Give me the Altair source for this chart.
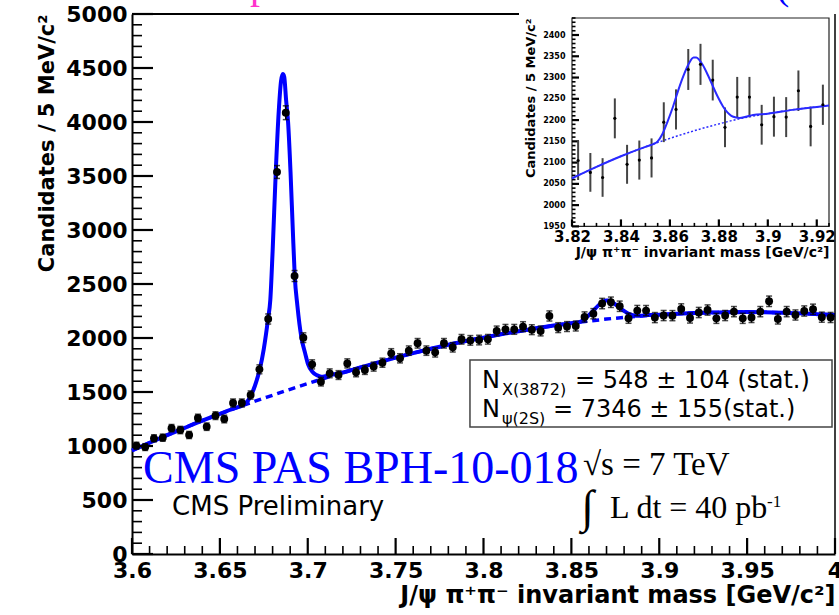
import altair as alt
import pandas as pd

# ---------------- data ----------------
bin_mass = [3.6025, 3.6075, 3.6125, 3.6175, 3.6225, 3.6275, 3.6325, 3.6375, 3.6425, 3.6475,
            3.6525, 3.6575, 3.6625, 3.6675, 3.6725, 3.6775, 3.6825, 3.6875, 3.6925, 3.6975,
            3.7025, 3.7075, 3.7125, 3.7175, 3.7225, 3.7275, 3.7325, 3.7375, 3.7425, 3.7475,
            3.7525, 3.7575, 3.7625, 3.7675, 3.7725, 3.7775, 3.7825, 3.7875, 3.7925, 3.7975,
            3.8025, 3.8075, 3.8125, 3.8175, 3.8225, 3.8275, 3.8325, 3.8375, 3.8425, 3.8475,
            3.8525, 3.8575, 3.8625, 3.8675, 3.8725, 3.8775, 3.8825, 3.8875, 3.8925, 3.8975,
            3.9025, 3.9075, 3.9125, 3.9175, 3.9225, 3.9275, 3.9325, 3.9375, 3.9425, 3.9475,
            3.9525, 3.9575, 3.9625, 3.9675, 3.9725, 3.9775, 3.9825, 3.9875, 3.9925, 3.9975]
bin_count = [1003, 990, 1071, 1077, 1165, 1148, 1102, 1259, 1179, 1281,
             1250, 1398, 1398, 1472, 1710, 2176, 3537, 4086, 2574, 2003,
             1756, 1596, 1673, 1657, 1765, 1682, 1704, 1735, 1771, 1858,
             1812, 1883, 1951, 1883, 1867, 1951, 1914, 1988, 1978, 1981,
             1988, 2065, 2080, 2080, 2105, 2077, 2065, 2204, 2096, 2106,
             2111, 2195, 2225, 2319, 2331, 2294, 2183, 2254, 2254, 2189,
             2208, 2207, 2269, 2185, 2236, 2259, 2182, 2208, 2244, 2182,
             2190, 2244, 2340, 2176, 2244, 2213, 2250, 2266, 2193, 2190]

# background (dashed) curve
bkg_mass = [3.600, 3.610, 3.620, 3.630, 3.640, 3.650, 3.660, 3.670, 3.680, 3.690,
            3.700, 3.710, 3.720, 3.730, 3.740, 3.750, 3.760, 3.770, 3.780, 3.790,
            3.800, 3.810, 3.820, 3.830, 3.840, 3.850, 3.860, 3.870, 3.880, 3.890,
            3.900, 3.910, 3.920, 3.925, 3.930, 3.940, 3.950, 3.960, 3.970, 3.980,
            3.990, 4.000]
bkg_count = [958, 1030, 1100, 1168, 1235, 1298, 1358, 1415, 1470, 1525,
             1578, 1630, 1680, 1728, 1773, 1818, 1860, 1900, 1938, 1972,
             2003, 2035, 2063, 2090, 2115, 2137, 2157, 2175, 2191, 2205,
             2215, 2224, 2231, 2234, 2236, 2239, 2240, 2238, 2234, 2228,
             2221, 2213]

# total fit in the psi(2S) region
psi_fit_mass = [3.6614, 3.6645, 3.6674, 3.6700, 3.6727, 3.6750, 3.6774, 3.6787, 3.6800, 3.6818,
                3.6835, 3.6848, 3.6858, 3.6866, 3.6877, 3.6888, 3.6902, 3.6915, 3.6926, 3.6941,
                3.6964, 3.6985, 3.7002, 3.7025, 3.7050, 3.7078, 3.7110, 3.7150]
psi_fit_count = [1364, 1392, 1457, 1560, 1710, 1900, 2176, 2352, 2800, 3537,
                 4100, 4380, 4445, 4420, 4200, 4000, 3537, 3000, 2574, 2300,
                 2003, 1860, 1756, 1690, 1657, 1641, 1650, 1664]

# total fit in the X(3872) region
x_fit_mass = [3.8530, 3.8550, 3.8570, 3.8590, 3.8613, 3.8633, 3.8654, 3.8675, 3.8697, 3.8708,
              3.8722, 3.8735, 3.8755, 3.8776, 3.8797, 3.8817, 3.8835, 3.8851, 3.8870, 3.8885,
              3.8910, 3.8940]
x_fit_count = [2143, 2150, 2168, 2196, 2232, 2268, 2302, 2330, 2347, 2347,
               2340, 2329, 2306, 2279, 2253, 2232, 2218, 2210, 2206, 2205,
               2208, 2212]

# tick positions
x_major = [3.6, 3.65, 3.7, 3.75, 3.8, 3.85, 3.9, 3.95, 4.0]
x_minor = [round(3.6 + 0.01 * i, 2) for i in range(41)]
y_major = [0, 500, 1000, 1500, 2000, 2500, 3000, 3500, 4000, 4500, 5000]
y_minor = list(range(0, 5001, 100))
in_x_major = [3.82, 3.84, 3.86, 3.88, 3.90, 3.92]
in_x_minor = [round(3.82 + 0.005 * i, 3) for i in range(22)]
in_y_major = [1950, 2000, 2050, 2100, 2150, 2200, 2250, 2300, 2350, 2400]
in_y_minor = list(range(1950, 2441, 10))

# ---------------- tables ----------------
pts = pd.DataFrame({"mass": bin_mass, "count": bin_count})
bkg = pd.DataFrame({"mass": bkg_mass, "count": bkg_count})
fit_rows = [(m, c) for m, c in zip(bkg_mass, bkg_count)
            if not (3.6614 <= m <= 3.715 or 3.853 <= m <= 3.894)]
fit_rows += list(zip(psi_fit_mass, psi_fit_count)) + list(zip(x_fit_mass, x_fit_count))
fit = pd.DataFrame(sorted(fit_rows), columns=["mass", "count"])

in_lo, in_hi = 3.82, 3.925
in_ylo, in_yhi = 1950, 2440
pts_in = pts[(pts["mass"] > in_lo) & (pts["mass"] < in_hi)].reset_index(drop=True)
bkg_in = bkg[(bkg["mass"] >= in_lo) & (bkg["mass"] <= in_hi)].reset_index(drop=True)
fit_in = fit[(fit["mass"] >= in_lo) & (fit["mass"] <= in_hi)].reset_index(drop=True)

# tick tables: position plus the two ends of each inward tick (in data units)
W, H = 703, 540
IN_X0, IN_X1 = 440, 697
IN_YB, IN_YT = 212.4, 4
MX_PX = 0.4 / W
MY_PX = 5000 / H
IX_PX = (in_hi - in_lo) / (IN_X1 - IN_X0)
IY_PX = (in_yhi - in_ylo) / (IN_YB - IN_YT)


def is_major(v, majors):
    return any(abs(v - m) < 1e-9 for m in majors)


def tick_table(values, majors, base, long_px, short_px, per_px):
    rows = []
    for v in values:
        big = is_major(v, majors)
        rows.append({"pos": v, "s": base, "e": base + (long_px if big else short_px) * per_px,
                     "w": 2.2 if big else 1.6})
    return pd.DataFrame(rows)


main_xt = tick_table(x_minor, x_major, 0, 16, 8, MY_PX)
main_yt = tick_table(y_minor, y_major, 3.6, 21, 10, MX_PX)
in_xt = tick_table(in_x_minor, in_x_major, in_ylo, 7, 3.5, IY_PX)
in_yt = tick_table(in_y_minor, in_y_major, in_lo, 7, 3.5, IX_PX)

# ---------------- layout ----------------
BLUE = "#0000ff"
FONT = "DejaVu Sans"
XM = alt.Scale(domain=[3.6, 4.0], nice=False, zero=False)
YM = alt.Scale(domain=[0, 5000], nice=False, zero=False)
XI = alt.Scale(domain=[in_lo, in_hi], range=[IN_X0, IN_X1], nice=False, zero=False)
YI = alt.Scale(domain=[in_ylo, in_yhi], range=[IN_YB, IN_YT], nice=False, zero=False)
WS = alt.Scale(domain=[0, 3], range=[0, 3])

err_calc = dict(lo="datum.count - sqrt(datum.count)", hi="datum.count + sqrt(datum.count)")


def fx(scale, field="mass", axis=None):
    return alt.X(f"{field}:Q", scale=scale, axis=axis)


def fy(scale, field="count", axis=None):
    return alt.Y(f"{field}:Q", scale=scale, axis=axis)


def dx(v, scale=XM):
    return alt.XDatum(v, type="quantitative", scale=scale, axis=None)


def dy(v, scale=YM):
    return alt.YDatum(v, type="quantitative", scale=scale, axis=None)


def one_row():
    return pd.DataFrame({"k": [0]})


def label(text, x, y, size, font=FONT, color="black", weight="normal"):
    return alt.Chart(one_row()).mark_text(
        text=text, font=font, fontSize=size, color=color, fontWeight=weight,
        align="left", baseline="alphabetic"
    ).encode(x=dx(x), y=dy(y))


def vticks(table, xs, ys):
    return alt.Chart(table).mark_rule(color="black").encode(
        x=fx(xs, "pos"), y=fy(ys, "s"), y2="e:Q",
        strokeWidth=alt.StrokeWidth("w:Q", scale=WS, legend=None))


def hticks(table, xs, ys):
    return alt.Chart(table).mark_rule(color="black").encode(
        y=fy(ys, "pos"), x=fx(xs, "s"), x2="e:Q",
        strokeWidth=alt.StrokeWidth("w:Q", scale=WS, legend=None))


# ---------------- main plot ----------------
ax_x_lab = alt.Axis(orient="bottom", values=x_major, format=".2~f", ticks=False,
                    domain=True, domainColor="black", domainWidth=2, grid=False,
                    labelFont=FONT, labelFontWeight="bold", labelFontSize=22,
                    labelColor="black", labelPadding=6, labelFlush=False, labelOverlap=False,
                    title="J/ψ π⁺π⁻ invariant mass [GeV/c²]", titleFont=FONT,
                    titleFontWeight="bold", titleFontSize=24, titleColor="black",
                    titleAnchor="end", titlePadding=2)
ax_y_lab = alt.Axis(orient="left", values=y_major, format="d", ticks=False,
                    domain=True, domainColor="black", domainWidth=2, grid=False,
                    labelFont=FONT, labelFontWeight="bold", labelFontSize=22,
                    labelColor="black", labelPadding=5, labelFlush=False, labelOverlap=False,
                    title="Candidates / 5 MeV/c²", titleFont=FONT,
                    titleFontWeight="bold", titleFontSize=21, titleColor="black",
                    titleAnchor="end", titlePadding=8)

layers = []
layers.append(alt.Chart(bkg).mark_line(color=BLUE, strokeWidth=3.5, strokeDash=[7, 5],
                                       interpolate="monotone").encode(x=fx(XM), y=fy(YM)))
layers.append(alt.Chart(fit).mark_line(color=BLUE, strokeWidth=4,
                                       interpolate="monotone").encode(x=fx(XM), y=fy(YM)))
layers.append(alt.Chart(pts).transform_calculate(**err_calc).mark_rule(
    color="black", strokeWidth=1.5).encode(x=fx(XM), y=fy(YM, "lo"), y2="hi:Q"))
layers.append(alt.Chart(pts).transform_calculate(**err_calc).mark_tick(
    color="black", orient="horizontal", size=6, thickness=1.5).encode(x=fx(XM), y=fy(YM, "lo")))
layers.append(alt.Chart(pts).transform_calculate(**err_calc).mark_tick(
    color="black", orient="horizontal", size=6, thickness=1.5).encode(x=fx(XM), y=fy(YM, "hi")))
layers.append(alt.Chart(pts).mark_circle(color="black", size=62, opacity=1).encode(
    x=fx(XM, axis=ax_x_lab), y=fy(YM, axis=ax_y_lab)))

# result box
layers.append(alt.Chart(one_row()).mark_rect(fill="white", stroke="#444444", strokeWidth=1.5).encode(
    x=dx(3.7923), x2=alt.X2Datum(3.9983), y=dy(1796), y2=alt.Y2Datum(1176)))

layers += [
    label("CMS PAS BPH-10-018", 3.6063, 657, 46, font="Liberation Serif", color=BLUE),
    label("CMS Preliminary", 3.6228, 361, 26, font="DejaVu Sans"),
    label("√s = 7 TeV", 3.8566, 731, 33, font="Liberation Serif"),
    label("∫", 3.8556, 296, 46, font="Liberation Serif"),
    label("L dt = 40 pb", 3.8720, 333, 32, font="Liberation Serif"),
    label("-1", 3.9613, 435, 17, font="Liberation Serif"),
    label("N", 3.7991, 1537, 24),
    label("X(3872)", 3.8105, 1472, 16),
    label("= 548 ± 104 (stat.)", 3.8521, 1537, 24),
    label("N", 3.7991, 1268, 24),
    label("ψ(2S)", 3.8105, 1204, 16),
    label("= 7346 ± 155(stat.)", 3.8395, 1268, 24),
]

# top (partly hidden by the inset) and right frame lines
layers.append(alt.Chart(one_row()).mark_rule(color="black", strokeWidth=2).encode(
    x=dx(3.6), x2=alt.X2Datum(3.8202), y=dy(5000)))
layers.append(alt.Chart(one_row()).mark_rule(color="black", strokeWidth=1.5).encode(
    x=dx(4.0), y=dy(0), y2=alt.Y2Datum(5000)))

# clipped fragments of the slide title above the plot
layers.append(alt.Chart(one_row()).mark_text(
    text="p", font="Liberation Serif", fontSize=40, color="#ff33cc",
    align="left", baseline="alphabetic").encode(x=dx(3.6671), y=dy(5148)))
layers.append(alt.Chart(one_row()).mark_text(
    text="(", font="Liberation Serif", fontSize=40, color=BLUE,
    align="left", baseline="alphabetic").encode(x=dx(3.9664), y=dy(5139)))

# inward ticks of the main frame
layers.append(vticks(main_xt, XM, YM))
layers.append(hticks(main_yt, XM, YM))

# ---------------- inset ----------------
ax_ix_lab = alt.Axis(orient="bottom", values=in_x_major, format=".2~f", ticks=False,
                     domain=False, grid=False, offset=IN_YB - H,
                     labelFont=FONT, labelFontWeight="bold", labelFontSize=15,
                     labelColor="black", labelPadding=3, labelFlush=False, labelOverlap=False,
                     title="J/ψ π⁺π⁻ invariant mass [GeV/c²]", titleFont=FONT,
                     titleFontWeight="bold", titleFontSize=14, titleColor="black",
                     titleAnchor="end", titlePadding=1)
ax_iy_lab = alt.Axis(orient="left", values=in_y_major, format="d", ticks=False,
                     domain=False, grid=False, offset=-IN_X0,
                     labelFont=FONT, labelFontWeight="bold", labelFontSize=8,
                     labelColor="black", labelPadding=7, labelFlush=False, labelOverlap=False,
                     title="Candidates / 5 MeV/c²", titleFont=FONT,
                     titleFontWeight="bold", titleFontSize=13, titleColor="black",
                     titleAnchor="end", titlePadding=5)

layers.append(alt.Chart(one_row()).mark_rect(fillOpacity=0, stroke="#222222", strokeWidth=1.2).encode(
    x=dx(in_lo, XI), x2=alt.X2Datum(in_hi), y=dy(in_ylo, YI), y2=alt.Y2Datum(in_yhi)))
layers.append(vticks(in_xt, XI, YI))
layers.append(hticks(in_yt, XI, YI))
layers.append(alt.Chart(bkg_in).mark_line(color="#2a2aff", strokeWidth=1.5, strokeDash=[2, 2],
                                          interpolate="monotone").encode(x=fx(XI), y=fy(YI)))
layers.append(alt.Chart(pts_in).transform_calculate(**err_calc).mark_rule(
    color="#444444", strokeWidth=2).encode(x=fx(XI), y=fy(YI, "lo"), y2="hi:Q"))
layers.append(alt.Chart(fit_in).mark_line(color="#2a2aff", strokeWidth=2,
                                          interpolate="monotone").encode(x=fx(XI), y=fy(YI)))
layers.append(alt.Chart(pts_in).mark_circle(color="black", size=10, opacity=1).encode(
    x=fx(XI, axis=ax_ix_lab), y=fy(YI, axis=ax_iy_lab)))

chart = alt.layer(*layers).resolve_scale(
    x="independent", y="independent", strokeWidth="independent"
).resolve_axis(
    x="independent", y="independent"
).properties(
    width=W, height=H,
    autosize=alt.AutoSizeParams(type="none"),
    padding={"left": 132, "top": 14, "right": 4, "bottom": 61},
    background="white",
).configure_view(strokeWidth=0)

chart.save("out.html", embed_options={"renderer": "svg", "actions": False})
